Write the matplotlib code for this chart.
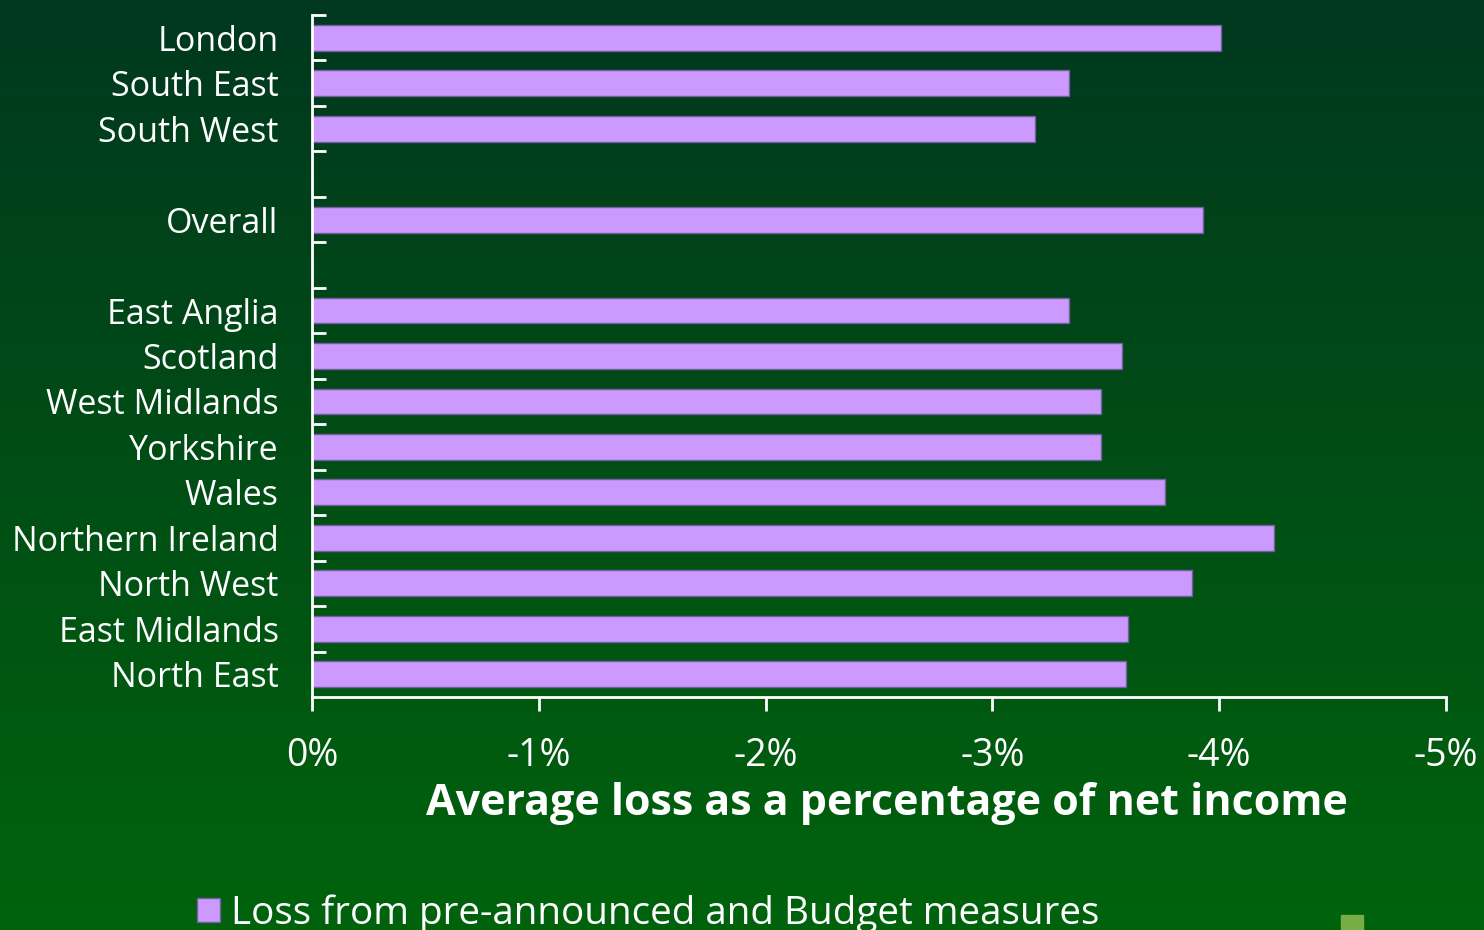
import numpy as np
import matplotlib.pyplot as plt
from matplotlib.patches import Rectangle

regions = ["London", "South East", "South West", "", "Overall", "",
           "East Anglia", "Scotland", "West Midlands", "Yorkshire", "Wales",
           "Northern Ireland", "North West", "East Midlands", "North East"]
loss = [-4.01, -3.34, -3.19, np.nan, -3.93, np.nan,
        -3.34, -3.57, -3.48, -3.48, -3.76, -4.24, -3.88, -3.60, -3.59]
xticks = [0, -1, -2, -3, -4, -5]
xticklabels = ["0%", "-1%", "-2%", "-3%", "-4%", "-5%"]

plt.rcParams['font.family'] = ['Open Sans', 'DejaVu Sans']

fig = plt.figure(figsize=(14.84, 9.3), dpi=100)

# background gradient, dark at top, brighter green at bottom
bg = fig.add_axes([0, 0, 1, 1], zorder=-10)
top = np.array([0, 56, 31]) / 255
bot = np.array([0, 99, 12]) / 255
t = np.linspace(0, 1, 256)[:, None]
grad = (top + (bot - top) * t)[:, None, :]
bg.imshow(grad, aspect='auto', extent=[0, 1, 0, 1])
bg.set_axis_off()

ax = fig.add_axes([0.2102, 0.2505, 0.7642, 0.7334])
ax.patch.set_alpha(0)

y = np.arange(len(regions))
ax.barh(y, loss, height=0.57, color='#CC99FF', edgecolor='#6F5F9E',
        linewidth=1, label='Loss from pre-announced and Budget measures')

ax.set_ylim(len(regions) - 0.5, -0.5)
ax.set_xlim(0, -5)
ax.set_yticks(y)
ax.set_yticklabels(regions, fontsize=24.5, color='white', va='center_baseline')
ax.tick_params(axis='y', which='major', length=0, pad=24)
ax.set_yticks(np.arange(-0.5, len(regions) - 0.5), minor=True)
ax.tick_params(axis='y', which='minor', direction='in', length=10, width=2, color='white')

ax.set_xticks(xticks)
ax.set_xticklabels(xticklabels, fontsize=27, color='white')
ax.tick_params(axis='x', direction='out', length=10, width=2, color='white', pad=19)

for s in ['top', 'right']:
    ax.spines[s].set_visible(False)
for s in ['left', 'bottom']:
    ax.spines[s].set_color('white')
    ax.spines[s].set_linewidth(2)

fig.text(0.598, 0.1355, "Average loss as a percentage of net income",
         fontsize=31, fontweight='bold', color='white', ha='center', va='center')

leg = fig.legend(loc='center left', bbox_to_anchor=(0.1325, 0.018), frameon=False,
                 fontsize=27.8, handlelength=0.6, handleheight=0.6, handletextpad=0.3,
                 borderaxespad=0, borderpad=0)
for txt in leg.get_texts():
    txt.set_color('white')

fig.add_artist(Rectangle((1341 / 1484, 0), 22 / 1484, 15 / 930,
                         transform=fig.transFigure, color='#76AD45'))

fig.savefig('out.png', dpi=100)
